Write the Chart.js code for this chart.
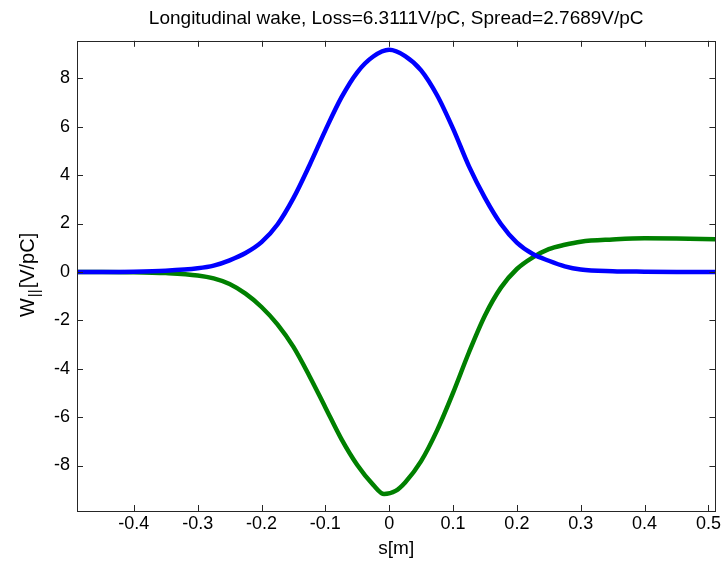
<!DOCTYPE html>
<html>
<head>
<meta charset="utf-8">
<script src="https://cdn.jsdelivr.net/npm/chart.js@4.4.1/dist/chart.umd.min.js"></script>
<style>
  html, body { margin: 0; padding: 0; background: #fff; }
  #wrap { width: 723px; height: 564px; }
</style>
</head>
<body>
<div id="wrap"><canvas id="wakeChart" width="723" height="564"></canvas></div>
<script>
// s positions [m] and values [V/pC]
const chargeS = [-0.489, -0.45, -0.4, -0.35, -0.3, -0.275, -0.25, -0.225, -0.2, -0.175, -0.15, -0.125, -0.1, -0.075, -0.05, -0.025, 0, 0.025, 0.05, 0.075, 0.1, 0.125, 0.15, 0.175, 0.2, 0.225, 0.25, 0.275, 0.3, 0.35, 0.4, 0.45, 0.511];
const chargeW = [0, 0, 0.01, 0.05, 0.15, 0.26, 0.48, 0.78, 1.23, 1.96, 3.05, 4.4, 5.85, 7.2, 8.25, 8.9, 9.18, 8.92, 8.33, 7.3, 5.92, 4.36, 3.06, 1.98, 1.21, 0.74, 0.46, 0.23, 0.1, 0.03, 0.01, 0, 0];

const wakeS = [-0.489, -0.45, -0.4, -0.35, -0.3, -0.275, -0.25, -0.225, -0.2, -0.175, -0.15, -0.125, -0.1, -0.075, -0.05, -0.025, -0.008, 0.01, 0.025, 0.05, 0.075, 0.1, 0.125, 0.15, 0.175, 0.2, 0.225, 0.25, 0.275, 0.3, 0.35, 0.4, 0.45, 0.511];
const wakeW = [0, 0, -0.01, -0.05, -0.15, -0.27, -0.5, -0.9, -1.45, -2.17, -3.1, -4.3, -5.6, -6.9, -7.98, -8.8, -9.18, -9.05, -8.7, -7.82, -6.55, -5.0, -3.32, -1.8, -0.65, 0.12, 0.6, 0.94, 1.12, 1.25, 1.34, 1.39, 1.38, 1.35];

const xTicks = [-0.4, -0.3, -0.2, -0.1, 0, 0.1, 0.2, 0.3, 0.4, 0.5];
const xTickLabels = ['-0.4', '-0.3', '-0.2', '-0.1', '0', '0.1', '0.2', '0.3', '0.4', '0.5'];
const yTicks = [-8, -6, -4, -2, 0, 2, 4, 6, 8];
const yTickLabels = ['-8', '-6', '-4', '-2', '0', '2', '4', '6', '8'];

const FONT = '"Liberation Sans", Arial, Helvetica, sans-serif';
const AXIS_COLOR = '#262626';

// matlab style box with inward ticks on all sides + y label with subscript
const boxPlugin = {
  id: 'matlabBox',
  afterDraw(chart) {
    const ctx = chart.ctx;
    const a = chart.chartArea;
    const xs = chart.scales.x, ys = chart.scales.y;
    ctx.save();
    ctx.strokeStyle = AXIS_COLOR;
    ctx.lineWidth = 1;
    ctx.strokeRect(Math.round(a.left) + 0.5, Math.round(a.top) + 0.5,
      Math.round(a.right - a.left), Math.round(a.bottom - a.top));
    ctx.beginPath();
    xTicks.forEach(v => {
      const px = Math.round(xs.getPixelForValue(v)) + 0.5;
      ctx.moveTo(px, a.bottom); ctx.lineTo(px, a.bottom - 6);
      ctx.moveTo(px, a.top); ctx.lineTo(px, a.top + 6);
    });
    yTicks.forEach(v => {
      const py = Math.round(ys.getPixelForValue(v)) + 0.5;
      ctx.moveTo(a.left, py); ctx.lineTo(a.left + 6, py);
      ctx.moveTo(a.right, py); ctx.lineTo(a.right - 6, py);
    });
    ctx.stroke();

    // y axis title: W_|| [V/pC]
    ctx.translate(28, (a.top + a.bottom) / 2);
    ctx.rotate(-Math.PI / 2);
    ctx.fillStyle = '#000';
    ctx.textBaseline = 'middle';
    const big = '20px ' + FONT, small = '15px ' + FONT;
    ctx.font = big; const w1 = ctx.measureText('W').width;
    ctx.font = small; const w2 = ctx.measureText('||').width;
    ctx.font = big; const w3 = ctx.measureText('[V/pC]').width;
    const x0 = -(w1 + w2 + w3) / 2;
    ctx.textAlign = 'left';
    ctx.font = big; ctx.fillText('W', x0, 0);
    ctx.font = small; ctx.fillText('||', x0 + w1 + 1, 7);
    ctx.font = big; ctx.fillText('[V/pC]', x0 + w1 + w2 + 2, 0);
    ctx.restore();
  }
};

const ctx = document.getElementById('wakeChart').getContext('2d');
new Chart(ctx, {
  type: 'line',
  data: {
    datasets: [{
      label: 'charge',
      data: chargeS.map((s, i) => ({ x: s, y: chargeW[i] })),
      borderColor: '#0000ff',
      borderWidth: 4.5,
      pointRadius: 0,
      cubicInterpolationMode: 'monotone'
    }, {
      label: 'wake',
      data: wakeS.map((s, i) => ({ x: s, y: wakeW[i] })),
      borderColor: '#008000',
      borderWidth: 4.5,
      pointRadius: 0,
      cubicInterpolationMode: 'monotone'
    }]
  },
  options: {
    responsive: false,
    animation: false,
    layout: { padding: { left: 0, right: 5, top: 0, bottom: 0 } },
    plugins: {
      legend: { display: false },
      tooltip: { enabled: false },
      title: {
        display: true,
        fullSize: false,
        text: 'Longitudinal wake, Loss=6.3111V/pC, Spread=2.7689V/pC',
        color: '#000',
        font: { family: FONT, size: 19, weight: 'normal' },
        padding: { top: 7, bottom: 11 }
      }
    },
    scales: {
      x: {
        type: 'linear',
        min: -0.489,
        max: 0.511,
        grid: { display: false, drawTicks: false },
        border: { display: false },
        afterBuildTicks: sc => { sc.ticks = xTicks.map(v => ({ value: v })); },
        afterFit: sc => { sc.height = 53; },
        ticks: {
          color: '#000',
          font: { family: FONT, size: 18 },
          padding: 2,
          maxRotation: 0,
          autoSkip: false,
          callback: (v) => xTickLabels[xTicks.indexOf(v)]
        },
        title: {
          display: true,
          text: 's[m]',
          color: '#000',
          font: { family: FONT, size: 19 },
          padding: { top: 0, bottom: 4 }
        }
      },
      y: {
        type: 'linear',
        min: -9.88,
        max: 9.55,
        grid: { display: false, drawTicks: false },
        border: { display: false },
        afterBuildTicks: sc => { sc.ticks = yTicks.map(v => ({ value: v })); },
        afterFit: sc => { sc.width = 77; },
        ticks: {
          color: '#000',
          font: { family: FONT, size: 18 },
          padding: 7,
          autoSkip: false,
          callback: (v) => yTickLabels[yTicks.indexOf(v)]
        }
      }
    }
  },
  plugins: [boxPlugin]
});
</script>
</body>
</html>
